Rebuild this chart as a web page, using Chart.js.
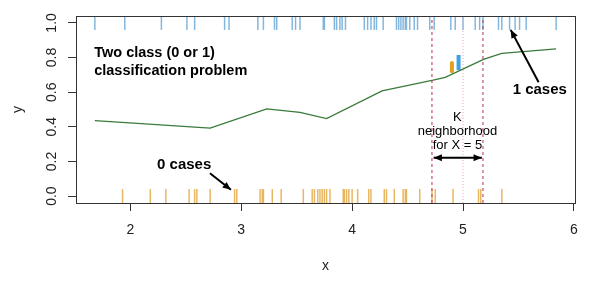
<!DOCTYPE html>
<html>
<head>
<meta charset="utf-8">
<script src="https://cdn.jsdelivr.net/npm/chart.js@4"></script>
<style>
  body { margin: 0; background: #fff; }
  canvas { display: block; }
</style>
</head>
<body>
<canvas id="knnChart" width="600" height="281"></canvas>
<script>

// fitted probability curve
const curveX = [1.68, 2.72, 3.23, 3.53, 3.77, 4.27, 4.73, 4.84, 5.19, 5.35, 5.84];
const curveY = [0.436, 0.393, 0.504, 0.484, 0.447, 0.607, 0.669, 0.686, 0.791, 0.824, 0.85];

// observations with class 1 (top rug) and class 0 (bottom rug)
const onesX = [1.68, 1.95, 2.28, 2.51, 2.58, 2.85, 2.89, 3.15, 3.20, 3.30, 3.32, 3.46, 3.49, 3.53,
    3.74, 3.75, 3.84, 3.86, 3.89, 3.91, 3.94, 4.11, 4.14, 4.17, 4.20, 4.22, 4.28, 4.40, 4.42, 4.44,
    4.46, 4.48, 4.49, 4.52, 4.56, 4.59, 4.70, 4.74, 4.89, 4.93, 5.00, 5.11, 5.15, 5.18, 5.32, 5.35,
    5.42, 5.47, 5.51, 5.57, 5.84];
const zerosX = [1.93, 2.18, 2.32, 2.53, 2.58, 2.60, 2.72, 2.94, 2.96, 3.17, 3.19, 3.20, 3.28, 3.36,
    3.56, 3.64, 3.66, 3.69, 3.71, 3.73, 3.75, 3.77, 3.80, 3.92, 3.93, 3.95, 3.97, 4.00, 4.05, 4.15,
    4.17, 4.29, 4.31, 4.38, 4.46, 4.48, 4.49, 4.61, 4.72, 4.75, 4.91, 5.14, 5.16, 5.35];

// neighborhood around X = 5
const kBounds = [4.72, 5.18];
const queryX = 5;

// little class-proportion bars near the query point
const barOrangeX = 4.90;
const barOrangeY = [0.721, 0.768];
const barBlueX = 4.96;
const barBlueY = [0.727, 0.815];

const xTicks = [2, 3, 4, 5, 6];
const yTicks = [0, 0.2, 0.4, 0.6, 0.8, 1.0];
const yMin = -0.04, yMax = 1.04;

const FONT = "'Liberation Sans', Arial, sans-serif";

function vline(x) {
    return [{ x: x, y: yMin }, { x: x, y: yMax }];
}

// box, rotated y labels, text and arrows
const extras = {
    id: "extras",
    afterDraw(chart) {
        const ctx = chart.ctx;
        const area = chart.chartArea;
        const xs = chart.scales.x;
        const ys = chart.scales.y;
        const px = v => xs.getPixelForValue(v);
        const py = v => ys.getPixelForValue(v);

        ctx.save();
        ctx.strokeStyle = "#333";
        ctx.lineWidth = 1;
        ctx.strokeRect(area.left + 0.5, area.top + 0.5, area.right - area.left, area.bottom - area.top);

        // y tick labels, read bottom to top like R
        ctx.fillStyle = "#222";
        ctx.font = "14px " + FONT;
        ctx.textAlign = "center";
        ctx.textBaseline = "middle";
        ys.ticks.forEach(t => {
            ctx.save();
            ctx.translate(52, py(t.value));
            ctx.rotate(-Math.PI / 2);
            ctx.fillText(t.value.toFixed(1), 0, 0);
            ctx.restore();
        });

        ctx.fillStyle = "#000";
        ctx.textAlign = "left";
        ctx.font = "bold 14.5px " + FONT;
        ctx.fillText("Two class (0 or 1)", px(1.674), py(0.826));
        ctx.fillText("classification problem", px(1.674), py(0.721));
        ctx.font = "bold 15px " + FONT;
        ctx.fillText("1 cases", px(5.448), py(0.612));
        ctx.fillText("0 cases", px(2.241), py(0.179));

        ctx.textAlign = "center";
        ctx.font = "13px " + FONT;
        ctx.fillText("K", px(4.95), py(0.453));
        ctx.fillText("neighborhood", px(4.95), py(0.373));
        ctx.fillText("for X = 5", px(4.95), py(0.29));

        function head(x0, y0, x1, y1) {
            const a = Math.atan2(y1 - y0, x1 - x0);
            const len = 9, w = 0.4;
            ctx.beginPath();
            ctx.moveTo(x1, y1);
            ctx.lineTo(x1 - len * Math.cos(a - w), y1 - len * Math.sin(a - w));
            ctx.lineTo(x1 - len * Math.cos(a + w), y1 - len * Math.sin(a + w));
            ctx.closePath();
            ctx.fill();
        }
        function arrow(x0, y0, x1, y1, both) {
            ctx.beginPath();
            ctx.moveTo(x0, y0);
            ctx.lineTo(x1, y1);
            ctx.stroke();
            head(x0, y0, x1, y1);
            if (both) head(x1, y1, x0, y0);
        }
        ctx.strokeStyle = "#000";
        ctx.lineWidth = 2;
        arrow(px(5.682), py(0.657), px(5.43), py(0.96));
        arrow(px(2.718), py(0.132), px(2.907), py(0.036));
        arrow(px(4.735), py(0.222), px(5.17), py(0.222), true);
        ctx.restore();
    }
};

new Chart(document.getElementById("knnChart"), {
    type: "scatter",
    data: {
        datasets: [
            {
                type: "line",
                data: vline(kBounds[0]),
                borderColor: "#b83050",
                borderWidth: 1,
                borderDash: [3, 3],
                pointRadius: 0
            },
            {
                type: "line",
                data: vline(kBounds[1]),
                borderColor: "#b83050",
                borderWidth: 1,
                borderDash: [3, 3],
                pointRadius: 0
            },
            {
                type: "line",
                data: vline(queryX),
                borderColor: "#e8a8c0",
                borderWidth: 1,
                borderDash: [1, 2],
                pointRadius: 0
            },
            {
                type: "line",
                data: curveX.map((x, i) => ({ x: x, y: curveY[i] })),
                borderColor: "#3a7a3a",
                borderWidth: 1.3,
                pointRadius: 0
            },
            {
                data: onesX.map(x => ({ x: x, y: 1 })),
                pointStyle: "line",
                rotation: 90,
                radius: 7,
                borderColor: "rgba(110,170,215,0.85)",
                borderWidth: 1.5
            },
            {
                data: zerosX.map(x => ({ x: x, y: 0 })),
                pointStyle: "line",
                rotation: 90,
                radius: 7,
                borderColor: "rgba(228,170,70,0.85)",
                borderWidth: 1.5
            },
            {
                type: "line",
                data: barOrangeY.map(y => ({ x: barOrangeX, y: y })),
                borderColor: "#e0a020",
                borderWidth: 4,
                borderCapStyle: "round",
                pointRadius: 0
            },
            {
                type: "line",
                data: barBlueY.map(y => ({ x: barBlueX, y: y })),
                borderColor: "#3ea2e0",
                borderWidth: 4,
                pointRadius: 0
            }
        ]
    },
    options: {
        responsive: false,
        animation: false,
        layout: { padding: { top: 16, right: 25, left: 0, bottom: 0 } },
        plugins: {
            legend: { display: false },
            tooltip: { enabled: false }
        },
        scales: {
            x: {
                type: "linear",
                min: 1.51,
                max: 6.01,
                afterBuildTicks: s => { s.ticks = xTicks.map(v => ({ value: v })); },
                afterFit: s => { s.height = 78; },
                grid: { drawOnChartArea: false, drawTicks: true, tickLength: 8, color: "#333" },
                border: { display: true, color: "#333" },
                ticks: {
                    color: "#222",
                    font: { family: FONT, size: 14 },
                    padding: 11,
                    maxRotation: 0
                },
                title: {
                    display: true,
                    text: "x",
                    color: "#222",
                    font: { family: FONT, size: 14 },
                    padding: { top: 6, bottom: 6 }
                }
            },
            y: {
                type: "linear",
                min: yMin,
                max: yMax,
                afterBuildTicks: s => { s.ticks = yTicks.map(v => ({ value: v })); },
                afterFit: s => { s.width = 76; },
                grid: { drawOnChartArea: false, drawTicks: true, tickLength: 8, color: "#333" },
                border: { display: true, color: "#333" },
                ticks: { display: false },
                title: {
                    display: true,
                    text: "y",
                    color: "#222",
                    font: { family: FONT, size: 14 },
                    padding: 10
                }
            }
        }
    },
    plugins: [extras]
});
</script>
</body>
</html>
